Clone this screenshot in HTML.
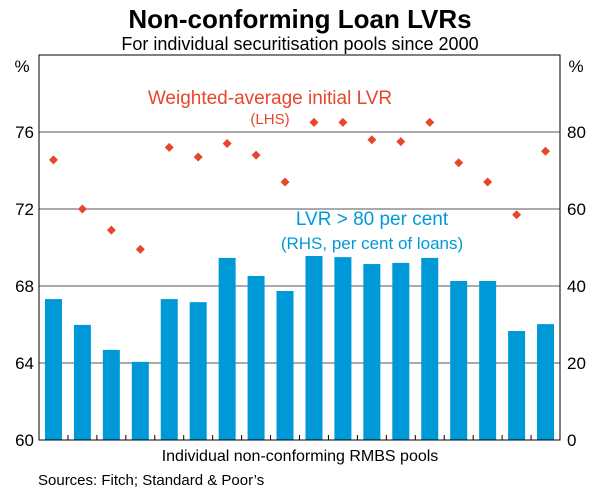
<!DOCTYPE html>
<html><head><meta charset="utf-8"><style>
body{margin:0;background:#fff}
svg text{font-family:"Liberation Sans",Arial,sans-serif}
</style></head><body>
<svg width="600" height="493" viewBox="0 0 600 493">
<text x="300" y="28" font-size="26" font-weight="bold" text-anchor="middle">Non-conforming Loan LVRs</text>
<text x="300" y="50" font-size="18" text-anchor="middle">For individual securitisation pools since 2000</text>
<text x="22" y="72" font-size="17" text-anchor="middle">%</text>
<text x="576" y="72" font-size="17" text-anchor="middle">%</text>
<g id="grid"></g><g id="bars"></g><g id="dots"></g><g id="axes"></g>
<text x="270" y="104" font-size="19" fill="#e8462a" text-anchor="middle">Weighted-average initial LVR</text>
<text x="270" y="124" font-size="15" fill="#e8462a" text-anchor="middle">(LHS)</text>
<text x="372" y="225" font-size="19" fill="#0099d8" text-anchor="middle">LVR &gt; 80 per cent</text>
<text x="372" y="249" font-size="17" fill="#0099d8" text-anchor="middle">(RHS, per cent of loans)</text>
<text x="300" y="461" font-size="16" text-anchor="middle">Individual non-conforming RMBS pools</text>
<text x="38" y="485" font-size="15">Sources: Fitch; Standard &amp; Poor’s</text>
</svg>
<script>
const lhsTicks=[60,64,68,72,76];
const rhsTicks=[0,20,40,60,80];
const lvrValues=[74.55,72.0,70.9,69.9,75.2,74.7,75.4,74.8,73.4,76.5,76.5,75.6,75.5,76.5,74.4,73.4,71.7,75.0];
const shareValues=[36.6,29.9,23.4,20.3,36.6,35.8,47.3,42.6,38.7,47.8,47.5,45.7,46.0,47.3,41.3,41.3,28.3,30.1];
const NS="http://www.w3.org/2000/svg";
const L=39,R=560,T=55,B=440;
const yL=v=>B-(v-60)/20*(B-T);
const yR=v=>B-v/100*(B-T);
const n=shareValues.length, step=(R-L)/n;
const xC=i=>L+step*(i+0.5);
function mk(tag,attrs,parent){const e=document.createElementNS(NS,tag);for(const k in attrs)e.setAttribute(k,attrs[k]);document.getElementById(parent).appendChild(e);return e;}
lhsTicks.forEach(v=>{
 if(v>60){const g=mk('line',{x1:L,x2:R,y1:yL(v),y2:yL(v),stroke:'#555','stroke-width':1},'grid');
 
 }
 const t=mk('text',{x:L-5,y:yL(v)+6,'font-size':17,'text-anchor':'end'},'axes');t.textContent=v;
 
 
});
rhsTicks.forEach(v=>{
 const t=mk('text',{x:R+7,y:yR(v)+6,'font-size':17,'text-anchor':'start'},'axes');t.textContent=v;
 
 
});
shareValues.forEach((v,i)=>{
 const w=17;const r=mk('rect',{x:xC(i)-w/2,y:yR(v),width:w,height:B-yR(v),fill:'#0099d8'},'bars');
 
 
});
lvrValues.forEach((v,i)=>{
 const x=xC(i),y=yL(v),s=4.5;
 const p=mk('polygon',{points:`${x},${y-s} ${x+s},${y} ${x},${y+s} ${x-s},${y}`,fill:'#e8462a'},'dots');
 
 
});
for(let i=1;i<n;i++){
 const t=mk('line',{x1:L+step*i,x2:L+step*i,y1:B,y2:B-5,stroke:'#000'},'axes');
 
 
}
const f=mk('rect',{x:L,y:T,width:R-L,height:B-T,fill:'none',stroke:'#000','stroke-width':1},'axes');


</script>
</body></html>
